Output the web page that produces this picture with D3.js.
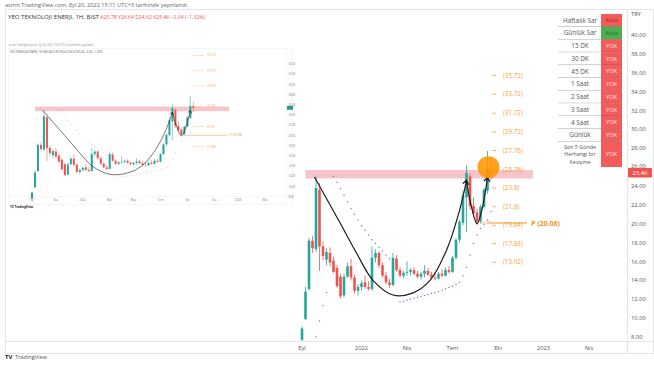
<!DOCTYPE html>
<html>
<head>
<meta charset="utf-8">
<script src="https://cdnjs.cloudflare.com/ajax/libs/d3/7.8.5/d3.min.js"></script>
<style>
  body { margin: 0; background: #fff; }
  svg { display: block; font-family: "Open Sans", Lato, sans-serif; }
</style>
</head>
<body>
<svg id="chart" width="654" height="366"></svg>
<script>
// ---- data (weekly bars) ----
var firstWeek = "2021-09-06";
var opens  = [7.70, 9.90, 13.10, 18.20, 17.30, 23.60, 17.60, 16.20, 16.90, 16.10, 15.30, 14.40, 12.40, 14.40, 15.50, 14.30, 12.90, 13.30, 13.80, 13.30,
              13.10, 16.40, 16.90, 15.60, 14.50, 13.80, 13.50, 16.30, 15.10, 14.50, 14.80, 14.90, 15.10, 14.70, 14.40, 14.70, 15.00, 14.60, 14.30, 14.20,
              14.70, 14.50, 15.10, 14.90, 16.40, 18.30, 20.10, 22.80, 25.00, 21.90, 21.20, 20.30, 21.80, 23.50, 25.78];
var highs  = [9.10, 13.30, 18.50, 18.70, 25.00, 24.30, 18.10, 17.40, 17.50, 16.50, 15.60, 14.70, 14.70, 15.90, 16.30, 14.60, 13.60, 14.00, 14.50, 13.90,
              17.60, 17.30, 17.10, 15.90, 14.90, 14.20, 16.90, 16.70, 15.40, 15.00, 16.00, 15.30, 15.40, 15.00, 14.90, 15.60, 15.30, 14.90, 14.80, 14.90,
              15.20, 15.40, 15.50, 16.60, 18.50, 20.40, 23.50, 26.20, 25.30, 22.80, 21.60, 22.00, 23.80, 27.70, 26.64];
var lows   = [7.55, 9.80, 12.90, 16.90, 17.00, 15.00, 16.10, 15.60, 15.50, 14.80, 13.20, 12.10, 12.20, 14.30, 14.00, 12.60, 12.40, 12.90, 13.10, 12.90,
              12.90, 15.90, 15.30, 14.30, 13.60, 13.20, 13.40, 14.90, 14.30, 14.20, 14.50, 14.50, 14.60, 14.20, 14.10, 14.30, 14.50, 14.10, 14.00, 14.10,
              14.30, 14.40, 14.70, 14.80, 16.20, 18.00, 19.80, 19.10, 21.50, 20.80, 19.90, 20.10, 21.60, 23.20, 24.62];
var closes = [8.90, 12.80, 18.20, 17.40, 23.80, 17.60, 16.60, 17.00, 15.90, 14.90, 13.40, 12.30, 14.40, 15.50, 14.30, 12.90, 13.30, 13.70, 13.30, 13.10,
              16.40, 16.90, 15.60, 14.50, 13.80, 13.50, 16.40, 15.10, 14.50, 14.80, 14.90, 15.10, 14.70, 14.40, 14.70, 15.00, 14.60, 14.30, 14.20, 14.70,
              14.50, 15.10, 14.90, 16.40, 18.30, 20.20, 23.00, 25.40, 21.90, 21.10, 20.20, 21.80, 23.60, 25.80, 25.46];

// parabolic SAR dots (bar index, value)
var sarIdx = [4, 5, 6, 7,
              9, 10, 11, 12, 13, 14, 15, 16, 17, 18, 19, 20, 21, 22, 23, 24, 25, 26, 27,
              28, 29, 30, 31, 32, 33, 34, 35, 36, 37, 38, 39, 40, 41, 42, 43, 44, 45, 46, 47, 48, 49, 50, 51, 52, 53, 54];
var sarVal = [8.0, 9.7, 11.3, 12.7,
              25.0, 24.4, 23.7, 23.0, 22.3, 21.6, 21.0, 20.4, 19.8, 19.3, 18.8, 18.3, 17.9, 17.5, 17.1, 16.7, 16.3, 16.0, 15.7,
              11.7, 11.8, 11.9, 12.0, 12.1, 12.2, 12.3, 12.4, 12.5, 12.6, 12.7, 12.8, 12.95, 13.1, 13.25, 13.4, 13.55, 13.8, 14.5, 15.4, 16.7, 17.9, 18.8, 19.5, 19.9, 20.4, 21.3];

// hand drawn cup & handle (bar index, value)
var cupIdx = [3.7, 10.9, 15.7, 20.3, 26, 31.7, 36.6, 41.4, 45.1, 47.1];
var cupVal = [24.95, 20.1, 16.9, 14.0, 12.45, 12.65, 14.0, 17.2, 21.4, 24.6];
var handleIdx = [47.1, 48.3, 50, 51.4, 53.0];
var handleVal = [24.6, 22.0, 20.0, 21.3, 24.9];

// resistance band, fib levels, pivot
var bandTop = 25.7, bandBottom = 24.8;
var bandFrom = "2021-09-13", bandTo = "2022-12-12";
var fibLevels = [35.72, 33.72, 31.72, 29.72, 27.76, 25.76, 23.8, 21.8, 19.84, 17.88, 15.92];
var fibLabels = ["(35.72)", "(33.72)", "(31.72)", "(29.72)", "(27.76)", "(25.76)", "(23.8)", "(21.8)", "(19.84)", "(17.88)", "(15.92)"];
var pivotValue = 20.08;

// axes
var priceTicks = [8, 10, 12, 14, 16, 18, 20, 22, 24, 26, 28, 30, 32, 34, 36, 38, 40];
var timeTicks = ["2021-09-06", "2022-01-03", "2022-04-04", "2022-07-04", "2022-10-03", "2023-01-02", "2023-04-03"];
var timeLabels = ["Eyl", "2022", "Nis", "Tem", "Eki", "2023", "Nis"];

// signal table
var tableLabels = ["Haftalık Sar", "Günlük Sar", "15 DK", "30 DK", "45 DK", "1 Saat", "2 Saat", "3 Saat", "4 Saat", "Günlük", "Son 5 Günde|Herhangi bir|Kesişme"];
var tableValues = ["Altta", "Altta", "YOK", "YOK", "YOK", "YOK", "YOK", "YOK", "YOK", "YOK", "YOK"];
var tableGreen  = [false, true, false, false, false, false, false, false, false, false, false];

// inset (older snapshot of the same chart)
var insetPriceTicks = [8, 10, 12, 14, 16, 18, 20, 22, 24, 26, 28, 30, 32, 34];
var insetTimeTicks = ["2021-09-06", "2021-11-01", "2022-01-03", "2022-03-07", "2022-05-02", "2022-07-04", "2022-09-05", "2022-11-07", "2023-01-02", "2023-03-06"];
var insetTimeLabels = ["Eyl", "Kas", "2022", "Mar", "May", "Tem", "Eyl", "Kas", "2023", "Mar"];
var insetFib = [35.72, 32.72, 29.72, 25.76, 21.8, 17.88];

var green = "#26a69a", red = "#ef5350", orange = "#f7a23b";
var parse = d3.timeParse("%Y-%m-%d");
var weeks = d3.timeMonday.range(parse(firstWeek), d3.timeDay.offset(parse(firstWeek), 7 * opens.length));
var bars = weeks.map(function(d, i) {
  return { date: d, o: opens[i], h: highs[i], l: lows[i], c: closes[i] };
});

var svg = d3.select("#chart");

/**
 * drawChart - draws candles, sar, band, curves into a group
 * with the given scales (used for the main chart and the inset)
 */
function drawChart(g, x, y, opt) {
  var xi = function(i) { return x(d3.timeDay.offset(parse(firstWeek), i * 7)); };

  // resistance band
  g.append("rect")
    .attr("x", x(parse(bandFrom)))
    .attr("width", x(parse(bandTo)) - x(parse(bandFrom)))
    .attr("y", y(bandTop))
    .attr("height", y(bandBottom) - y(bandTop))
    .attr("fill", "#f7c4ca");

  // sar dots
  g.selectAll(".sar").data(sarIdx).enter().append("circle")
    .attr("class", "sar")
    .attr("cx", function(d) { return xi(d); })
    .attr("cy", function(d, i) { return y(sarVal[i]); })
    .attr("r", opt.dot)
    .attr("fill", "#6f7fd0");

  // candles
  var c = g.selectAll(".bar").data(bars).enter().append("g").attr("class", "bar");
  c.append("line")
    .attr("x1", function(d) { return x(d.date); })
    .attr("x2", function(d) { return x(d.date); })
    .attr("y1", function(d) { return y(d.h); })
    .attr("y2", function(d) { return y(d.l); })
    .attr("stroke", function(d) { return d.c >= d.o ? green : red; })
    .attr("stroke-width", opt.wick);
  c.append("rect")
    .attr("x", function(d) { return x(d.date) - opt.bw / 2; })
    .attr("width", opt.bw)
    .attr("y", function(d) { return y(Math.max(d.o, d.c)); })
    .attr("height", function(d) { return Math.max(0.6, Math.abs(y(d.o) - y(d.c))); })
    .attr("fill", function(d) { return d.c >= d.o ? green : red; });

  // cup and handle
  var line = d3.line()
    .x(function(d) { return xi(d[0]); })
    .y(function(d) { return y(d[1]); })
    .curve(d3.curveCatmullRom.alpha(0.5));
  g.append("path")
    .attr("d", line(cupIdx.map(function(d, i) { return [d, cupVal[i]]; })))
    .attr("fill", "none").attr("stroke", "#1e1e1e").attr("stroke-width", opt.curve)
    .attr("marker-end", opt.marker);
  g.append("path")
    .attr("d", line(handleIdx.map(function(d, i) { return [d, handleVal[i]]; })))
    .attr("fill", "none").attr("stroke", "#1e1e1e").attr("stroke-width", opt.curve)
    .attr("marker-end", opt.marker);
}

// arrow marker
var defs = svg.append("defs");
defs.append("marker")
  .attr("id", "arrow")
  .attr("markerUnits", "userSpaceOnUse")
  .attr("markerWidth", 8).attr("markerHeight", 8)
  .attr("refX", 5).attr("refY", 4)
  .attr("orient", "auto")
  .append("path")
  .attr("d", "M1,1 L5,4 L1,7")
  .attr("fill", "none").attr("stroke", "#111").attr("stroke-width", 1.2);
defs.append("marker")
  .attr("id", "arrowSmall")
  .attr("markerUnits", "userSpaceOnUse")
  .attr("markerWidth", 5).attr("markerHeight", 5)
  .attr("refX", 3).attr("refY", 2.5)
  .attr("orient", "auto")
  .append("path")
  .attr("d", "M0.5,0.5 L3,2.5 L0.5,4.5")
  .attr("fill", "none").attr("stroke", "#111").attr("stroke-width", 0.6);
defs.append("clipPath").attr("id", "mainClip")
  .append("rect").attr("x", 5).attr("y", 9).attr("width", 622).attr("height", 332);

// ---- main chart ----
var x = d3.scaleTime().domain([parse("2021-09-06"), parse("2023-04-03")]).range([302, 589]);
var y = d3.scaleLinear().domain([8, 40]).range([337, 35]);

// frame
svg.append("rect").attr("x", 5.5).attr("y", 9.5).attr("width", 648).attr("height", 344)
  .attr("fill", "none").attr("stroke", "#e3e5ea");
svg.append("line").attr("x1", 627.5).attr("x2", 627.5).attr("y1", 9.5).attr("y2", 353.5).attr("stroke", "#e3e5ea");
svg.append("line").attr("x1", 5.5).attr("x2", 654).attr("y1", 341.5).attr("y2", 341.5).attr("stroke", "#e3e5ea");

var main = svg.append("g").attr("clip-path", "url(#mainClip)");
drawChart(main, x, y, { bw: 2.6, wick: 0.8, dot: 0.75, curve: 1.2, marker: "url(#arrow)" });

// fib levels
var fib = main.append("g");
fib.selectAll("line").data(fibLevels).enter().append("line")
  .attr("x1", 492).attr("x2", 496)
  .attr("y1", function(d) { return y(d); }).attr("y2", function(d) { return y(d); })
  .attr("stroke", orange).attr("stroke-width", 0.8);
fib.selectAll("text").data(fibLevels).enter().append("text")
  .attr("x", 503).attr("y", function(d) { return y(d); })
  .attr("dy", "0.35em")
  .attr("font-size", 6.3).attr("fill", orange)
  .text(function(d, i) { return fibLabels[i]; });

// pivot
main.append("line")
  .attr("x1", 490).attr("x2", 527)
  .attr("y1", y(pivotValue)).attr("y2", y(pivotValue))
  .attr("stroke", "#f39422").attr("stroke-width", 1);
main.append("text")
  .attr("x", 531).attr("y", y(pivotValue)).attr("dy", "0.38em")
  .attr("font-size", 7).attr("font-weight", "bold").attr("fill", "#f39422")
  .text("P (" + pivotValue.toFixed(2) + ")");
main.append("text")
  .attr("x", 480).attr("y", y(pivotValue) + 1.5)
  .attr("font-size", 4).attr("fill", "#c98a3c")
  .text(pivotValue.toFixed(2));

// highlight circle on last bar
main.append("circle")
  .attr("cx", x(bars[bars.length - 1].date) - 2.5)
  .attr("cy", y(26.0))
  .attr("r", 11)
  .attr("fill", "#ff9500").attr("opacity", 0.88);

// price axis
var yAxis = svg.append("g");
yAxis.selectAll("text").data(priceTicks).enter().append("text")
  .attr("x", 631).attr("y", function(d) { return y(d) - (d === 26 ? 1 : 0); }).attr("dy", "0.35em")
  .attr("font-size", 5.8).attr("fill", "#555")
  .text(function(d) { return d3.format(".2f")(d); });
yAxis.append("text").attr("x", 631).attr("y", 16).attr("font-size", 5.8).attr("fill", "#555").text("TRY");
var last = bars[bars.length - 1];
yAxis.append("rect").attr("x", 628).attr("y", y(last.c) - 4.2).attr("width", 24).attr("height", 9.5).attr("rx", 1).attr("fill", red);
yAxis.append("text").attr("x", 640).attr("y", y(last.c) + 0.6).attr("dy", "0.36em")
  .attr("text-anchor", "middle").attr("font-size", 5.8).attr("fill", "#fff")
  .text(last.c.toFixed(2));

// time axis
svg.append("g").selectAll("text").data(timeTicks).enter().append("text")
  .attr("x", function(d) { return x(parse(d)); }).attr("y", 349.5)
  .attr("text-anchor", "middle").attr("font-size", 5.8).attr("fill", "#555")
  .text(function(d, i) { return timeLabels[i]; });

// signal table
var rowH = 12.75, tTop = 14, tLeft = 558, tMid = 601, tRight = 622;
var rows = svg.append("g").selectAll("g").data(tableLabels).enter().append("g")
  .attr("transform", function(d, i) { return "translate(0," + (tTop + i * rowH) + ")"; });
rows.append("rect")
  .attr("x", tLeft).attr("width", tMid - tLeft)
  .attr("height", function(d, i) { return i === tableLabels.length - 1 ? 25.5 : rowH; })
  .attr("fill", "#fff");
rows.append("rect")
  .attr("x", tMid).attr("width", tRight - tMid)
  .attr("height", function(d, i) { return i === tableLabels.length - 1 ? 25.5 : rowH; })
  .attr("fill", function(d, i) { return tableGreen[i] ? "#4caf50" : "#f45b5b"; });
rows.append("line")
  .attr("x1", tLeft).attr("x2", tRight)
  .attr("y1", function(d, i) { return i === tableLabels.length - 1 ? 25.5 : rowH; })
  .attr("y2", function(d, i) { return i === tableLabels.length - 1 ? 25.5 : rowH; })
  .attr("stroke", "#555").attr("stroke-width", 0.5)
  .attr("opacity", function(d, i) { return i === tableLabels.length - 1 ? 0 : 1; });
rows.each(function(d, i) {
  var parts = d.split("|");
  var multi = parts.length > 1;
  var h = i === tableLabels.length - 1 ? 25.5 : rowH;
  parts.forEach(function(p, k) {
    d3.select(this).append("text")
      .attr("x", 580).attr("text-anchor", "middle")
      .attr("font-size", multi ? 5.4 : 6.4).attr("fill", "#555")
      .attr("y", h / 2 + (k - (parts.length - 1) / 2) * 7.6)
      .attr("dy", "0.35em").text(p);
  }, this);
  d3.select(this).append("text")
    .attr("x", (tMid + tRight) / 2).attr("y", h / 2).attr("dy", "0.35em")
    .attr("text-anchor", "middle").attr("font-size", 5.8)
    .attr("fill", tableGreen[i] ? "#1f6d22" : (tableValues[i] === "YOK" ? "#ffe3e3" : "#a81e1e"))
    .text(tableValues[i]);
});

// header
svg.append("text").attr("x", 5).attr("y", 7).attr("font-size", 5.6).attr("fill", "#666")
  .text("asrnn TradingView.com, Eyl 20, 2022 15:11 UTC+3 tarihinde yayınlandı");
var hdr = svg.append("text").attr("x", 8).attr("y", 18.5).attr("font-size", 6.1).attr("fill", "#333");
hdr.append("tspan").text("YEO TEKNOLOJI ENERJI, 1H, BIST ");
hdr.append("tspan").attr("fill", red).attr("font-size", 5.1)
  .text(" A" + last.o.toFixed(2) + " Y" + last.h.toFixed(2) + " D" + last.l.toFixed(2) + " K" + last.c.toFixed(2) + " −0.34 (−1.32%)");

// footer logo
svg.append("text").attr("x", 5).attr("y", 359).attr("font-size", 6).attr("font-weight", "bold").attr("fill", "#131722").text("TV");
svg.append("text").attr("x", 15).attr("y", 359).attr("font-size", 5.6).attr("fill", "#555").text("TradingView");

// ---- inset ----
var ix = d3.scaleTime().domain([parse("2021-09-06"), parse("2023-04-03")]).range([32, 277]);
var iy = d3.scaleLinear().domain([8, 36]).range([197, 54]);
var inset = svg.append("g");
inset.append("rect").attr("x", 8.5).attr("y", 48.5).attr("width", 284).attr("height", 156)
  .attr("fill", "#fff").attr("stroke", "#eceef2").attr("stroke-width", 0.5);
inset.append("line").attr("x1", 286.5).attr("x2", 286.5).attr("y1", 48.5).attr("y2", 204.5).attr("stroke", "#eceef2").attr("stroke-width", 0.5);
inset.append("line").attr("x1", 8.5).attr("x2", 292).attr("y1", 196.5).attr("y2", 196.5).attr("stroke", "#eceef2").attr("stroke-width", 0.5);
inset.append("text").attr("x", 9).attr("y", 46).attr("font-size", 2.6).attr("fill", "#888")
  .text("asrnn TradingView.com, Eyl 20, 2022 15:07 UTC+3 tarihinde yayınlandı");
inset.append("text").attr("x", 10).attr("y", 52.5).attr("font-size", 2.6).attr("fill", "#555")
  .text("YEO TEKNOLOJI ENERJI, 1H, BIST  A25.78 Y26.64 D24.62 K25.46 −0.34 (−1.32%)");

drawChart(inset, ix, iy, { bw: 2.0, wick: 0.5, dot: 0.35, curve: 0.6, marker: "url(#arrowSmall)" });

inset.selectAll(".ifib").data(insetFib).enter().append("line")
  .attr("x1", 193).attr("x2", 204)
  .attr("y1", function(d) { return iy(d); }).attr("y2", function(d) { return iy(d); })
  .attr("stroke", orange).attr("stroke-width", 0.4).attr("opacity", 0.8);
inset.selectAll(".ifibt").data(insetFib).enter().append("text")
  .attr("x", 207).attr("y", function(d) { return iy(d); }).attr("dy", "0.35em")
  .attr("font-size", 2.8).attr("fill", orange)
  .text(function(d) { return "(" + d + ")"; });
inset.append("line").attr("x1", 183).attr("x2", 228)
  .attr("y1", iy(pivotValue)).attr("y2", iy(pivotValue))
  .attr("stroke", "#f39422").attr("stroke-width", 0.5);
inset.append("text").attr("x", 230).attr("y", iy(pivotValue)).attr("dy", "0.35em")
  .attr("font-size", 3).attr("fill", "#f39422").text("P (20.08)");
inset.selectAll(".iy").data(insetPriceTicks).enter().append("text")
  .attr("x", 288.5).attr("y", function(d) { return iy(d); }).attr("dy", "0.35em")
  .attr("font-size", 2.6).attr("fill", "#777")
  .text(function(d) { return d3.format(".2f")(d); });
inset.append("rect").attr("x", 287).attr("y", iy(25.46) - 2).attr("width", 6).attr("height", 4).attr("fill", "#2a9d8f");
inset.selectAll(".ix").data(insetTimeTicks).enter().append("text")
  .attr("x", function(d) { return ix(parse(d)); }).attr("y", 201)
  .attr("text-anchor", "middle").attr("font-size", 2.8).attr("fill", "#777")
  .text(function(d, i) { return insetTimeLabels[i]; });
inset.append("text").attr("x", 10).attr("y", 208).attr("font-size", 3).attr("font-weight", "bold").attr("fill", "#131722").text("TV TradingView");
</script>
</body>
</html>
